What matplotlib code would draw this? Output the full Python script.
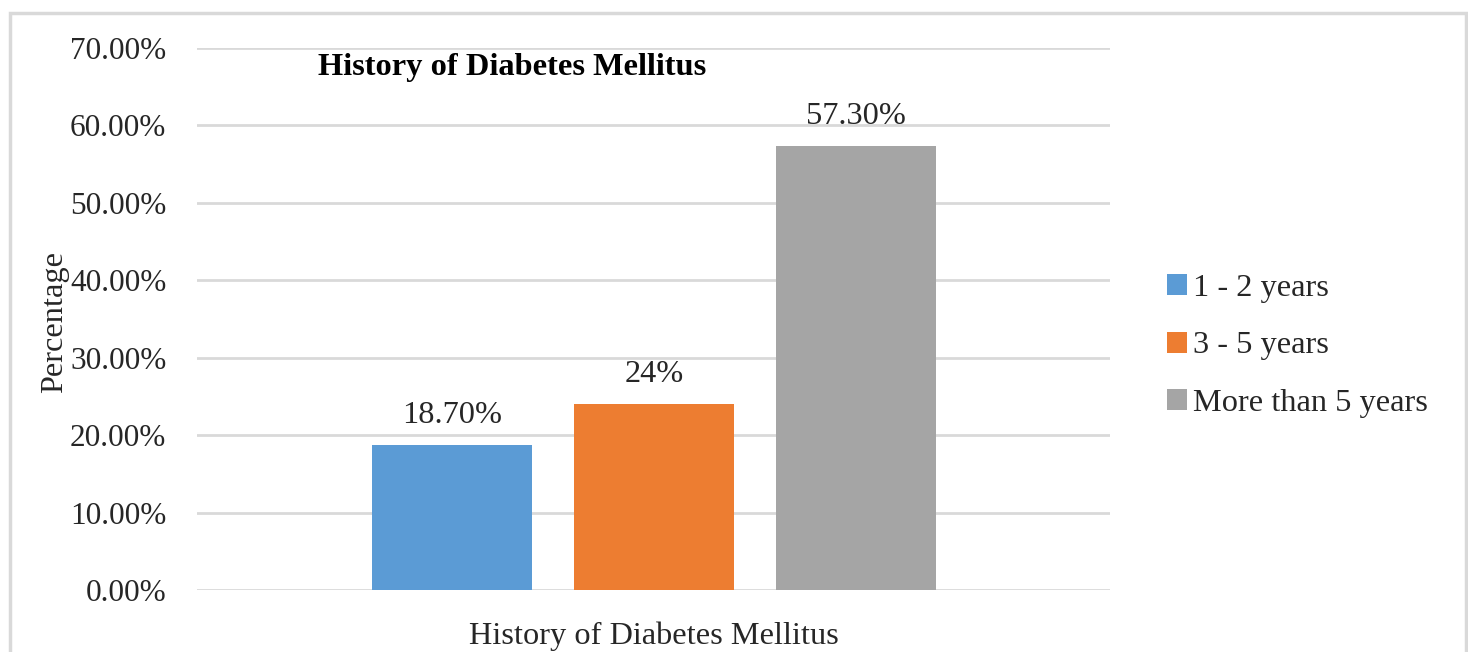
import matplotlib.pyplot as plt
from matplotlib.patches import Rectangle

plt.rcParams['font.family'] = ['Liberation Serif', 'DejaVu Serif']

categories = ['1 - 2 years', '3 - 5 years', 'More than 5 years']
values = [18.7, 24.0, 57.3]
value_labels = ['18.70%', '24%', '57.30%']
colors = ['#5B9BD5', '#ED7D31', '#A5A5A5']
yticks = [0, 10, 20, 30, 40, 50, 60, 70]

text_color = '#262626'
grid_color = '#D9D9D9'
fs = 23.3

fig = plt.figure(figsize=(14.68, 6.52), dpi=100)
ax = fig.add_axes([197/1468, 1-590/652, (1110-197)/1468, (590-48)/652])

# frame around the whole chart
fig.patches.append(Rectangle((10/1468, -0.05), (1466-10)/1468, 1.05-13/652,
                             transform=fig.transFigure, fill=False,
                             edgecolor=grid_color, linewidth=2.5))

positions = [0, 1, 2]
for pos, val, lab, col, txt in zip(positions, values, categories, colors, value_labels):
    ax.bar(pos, val, width=0.79, color=col, label=lab, zorder=3)
    ax.annotate(txt, (pos, val), xytext=(0, 11), textcoords='offset points',
                ha='center', va='bottom', fontsize=fs, color=text_color)

ax.set_xlim(-1.262, 3.255)
ax.set_ylim(0, 70)
ax.set_yticks(yticks)
ax.set_yticklabels(['%.2f%%' % t for t in yticks], fontsize=22.5, color=text_color)
ax.tick_params(axis='y', length=0, pad=22)
ax.set_xticks([])
ax.yaxis.grid(True, color=grid_color, linewidth=2)
ax.set_axisbelow(True)
for s in ax.spines.values():
    s.set_visible(False)

ax.set_xlabel('History of Diabetes Mellitus', fontsize=fs, color=text_color, labelpad=23)
fig.text(55/1468, 1-322/652, 'Percentage', rotation=90, ha='center', va='center',
         fontsize=fs, color=text_color)
fig.text(512/1468, 1-67/652, 'History of Diabetes Mellitus', ha='center', va='center',
         fontsize=fs, fontweight='bold', color='black')

ax.legend(loc='center left', bbox_to_anchor=(1151/1468, 1-346/652),
          bbox_transform=fig.transFigure, frameon=False, fontsize=fs,
          handlelength=0.62, handleheight=0.62, handletextpad=0.18,
          labelspacing=0.88, labelcolor=text_color, borderpad=0)

fig.savefig('out.png', dpi=100)
